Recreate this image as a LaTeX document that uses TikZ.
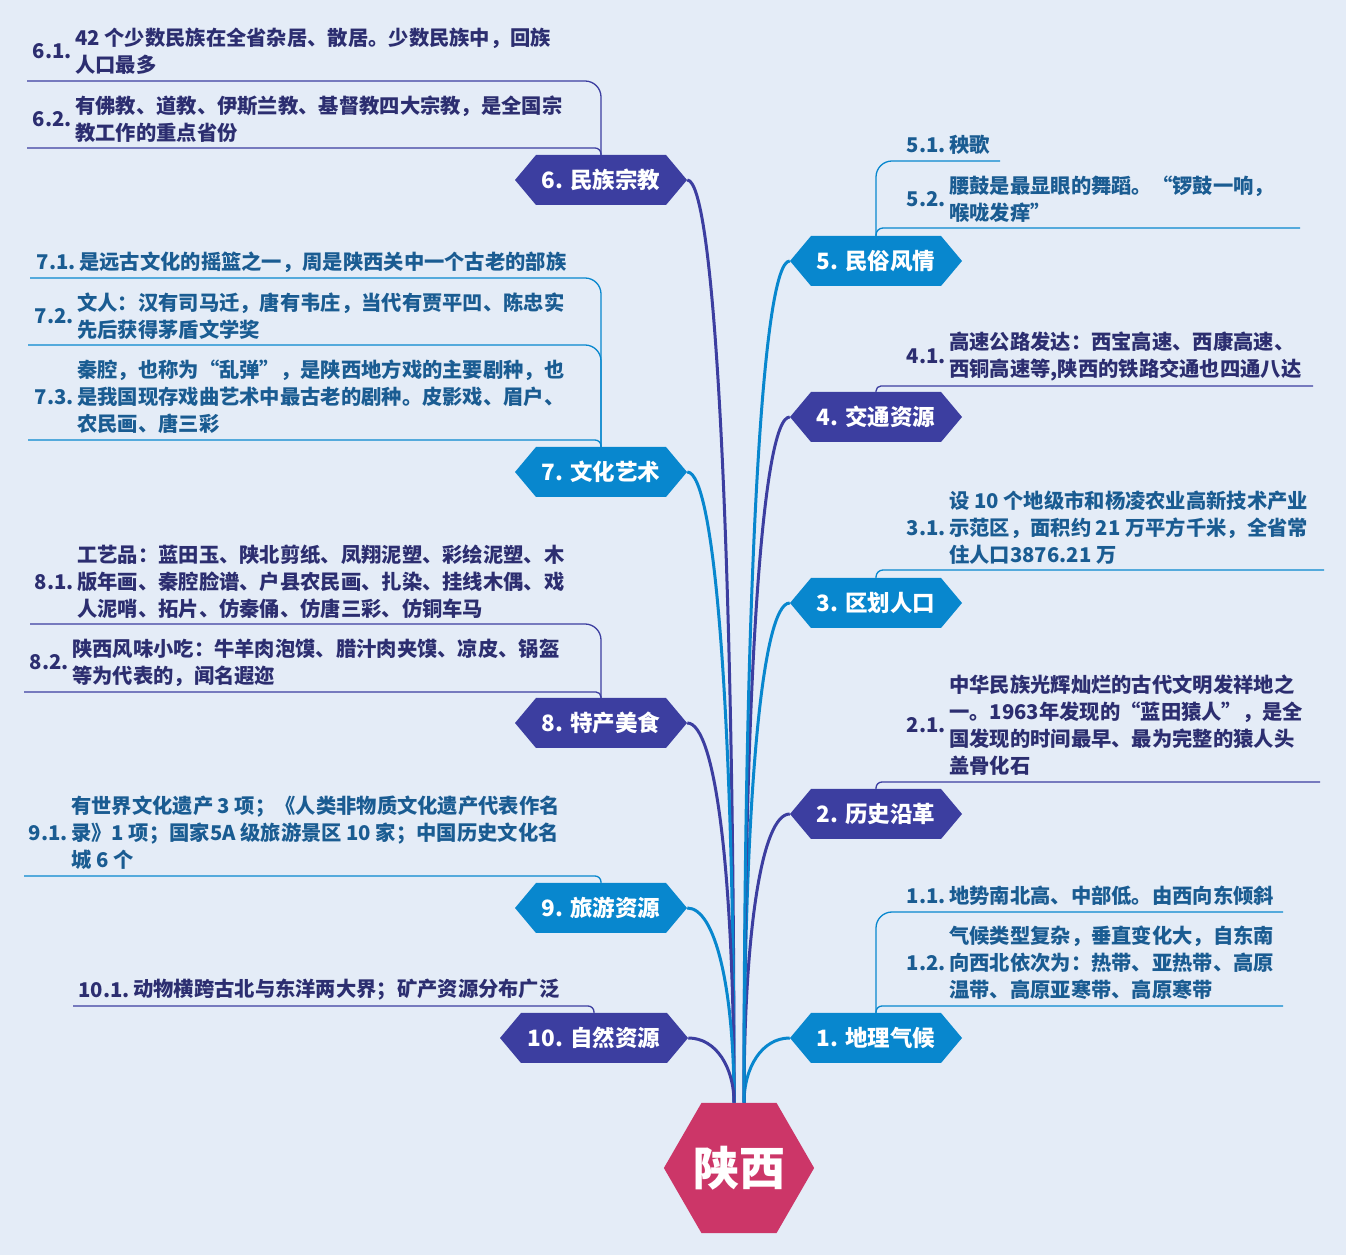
\documentclass[tikz,border=0pt]{standalone}
\usepackage{fontspec}
\setmainfont{Noto Sans CJK SC}
\usepackage{tikz}
\usetikzlibrary{calc}
\usetikzlibrary{positioning,shapes.geometric,shapes.symbols}

\definecolor{bgblue}{RGB}{228,236,247}
\definecolor{bluebr}{RGB}{8,135,206}
\definecolor{indbr}{RGB}{60,62,160}
\definecolor{bluetxt}{RGB}{26,92,146}
\definecolor{indtxt}{RGB}{44,46,112}
\definecolor{rootpink}{RGB}{204,54,104}

\begin{document}
\begin{tikzpicture}[x=1pt, y=1pt,
        topic/.style={signal, signal to=east and west, signal pointer angle=100, fill=#1, text=white,
            font=\bfseries\fontsize{22.5}{27}\selectfont, minimum height=50pt, minimum width=172pt, inner xsep=0pt},
        subtext/.style={anchor=west, align=left, inner sep=0pt, text=#1, font=\bfseries\fontsize{20.3}{27}\selectfont},
        sublabel/.style={inner sep=0pt, text=#1, font=\bfseries\fontsize{20.3}{27}\selectfont},
        link/.style={draw=#1, line width=3pt},
        subline/.style={draw=#1, line width=1.3pt}]
        \useasboundingbox (0,0) rectangle (1346,1255);
        \fill [bgblue] (0,0) rectangle (1346,1255);

        % Central node
        \node [regular polygon, regular polygon sides=6, fill=rootpink, minimum size=150pt, inner sep=0pt,
            text=white, font=\bfseries\fontsize{46}{50}\selectfont] (root) at (739,87) {陕西};

        % Topics on the right
        \foreach \i/\name/\col/\y in {1/地理气候/bluebr/217, 2/历史沿革/indbr/441, 3/区划人口/bluebr/652, 4/交通资源/indbr/838, 5/民俗风情/bluebr/994} {
            \node [topic=\col] (t\i) at (876,\y) {\i. \name};
        }
        % Topics on the left
        \foreach \i/\name/\col/\y in {6/民族宗教/indbr/1075, 7/文化艺术/bluebr/783, 8/特产美食/indbr/532, 9/旅游资源/bluebr/347} {
            \node [topic=\col] (t\i) at (601,\y) {\i. \name};
        }
        \node [topic=indbr, minimum width=188pt] (t10) at (594,217) {10. 自然资源};

        % Links from the central node
        \foreach \i/\col/\d in {1/bluebr/35, 2/indbr/170, 3/bluebr/300, 4/indbr/410, 5/bluebr/510} {
            \draw [link=\col] ([xshift=5pt]root.north) to[out=90, in=180, out distance=\d pt, in distance=28pt] (t\i.west);
        }
        \foreach \i/\col/\d in {6/indbr/550, 7/bluebr/380, 8/indbr/230, 9/bluebr/115, 10/indbr/35} {
            \draw [link=\col] ([xshift=-5pt]root.north) to[out=90, in=0, out distance=\d pt, in distance=28pt] (t\i.east);
        }

        % Subtopics on the left
        \foreach \k/\lb/\tp/\tx/\ty/\ux/\uy/\rr/\tc/\lc/\txt in {
            61/6.1./t6/75/1203.5/27/1174/16/indtxt/indbr/{42 个少数民族在全省杂居、散居。少数民族中，回族\\人口最多},
            62/6.2./t6/75/1135.5/27/1107/6/indtxt/indbr/{有佛教、道教、伊斯兰教、基督教四大宗教，是全国宗\\教工作的重点省份},
            71/7.1./t7/79/993/30/977/16/bluetxt/bluebr/{是远古文化的摇篮之一，周是陕西关中一个古老的部族},
            72/7.2./t7/77/938.5/28/910/16/bluetxt/bluebr/{文人：汉有司马迁，唐有韦庄，当代有贾平凹、陈忠实\\先后获得茅盾文学奖},
            73/7.3./t7/77/858/28/815/6/bluetxt/bluebr/{秦腔，也称为“乱弹”，是陕西地方戏的主要剧种，也\\是我国现存戏曲艺术中最古老的剧种。皮影戏、眉户、\\农民画、唐三彩},
            81/8.1./t8/77/673/30/631/16/indtxt/indbr/{工艺品：蓝田玉、陕北剪纸、凤翔泥塑、彩绘泥塑、木\\版年画、秦腔脸谱、户县农民画、扎染、挂线木偶、戏\\人泥哨、拓片、仿秦俑、仿唐三彩、仿铜车马},
            82/8.2./t8/72/592.5/24/563/5/indtxt/indbr/{陕西风味小吃：牛羊肉泡馍、腊汁肉夹馍、凉皮、锅盔\\等为代表的，闻名遐迩},
            91/9.1./t9/71/422/24/379/6/bluetxt/bluebr/{有世界文化遗产 3 项；《人类非物质文化遗产代表作名\\录》1 项；国家5A 级旅游景区 10 家；中国历史文化名\\城 6 个},
            101/10.1./t10/133/265/73/249/6/indtxt/indbr/{动物横跨古北与东洋两大界；矿产资源分布广泛}} {
            \node [subtext=\tc] (s\k) at (\tx,\ty) {\txt};
            \node [sublabel=\tc, left=3pt of s\k] (l\k) {\lb};
            \coordinate (u\k) at (\ux,\uy);
            \draw [subline=\lc, rounded corners=\rr pt] (u\k) -| (\tp.north);
        }

        % Subtopics on the right
        \foreach \k/\lb/\tp/\ty/\ux/\uy/\rr/\tc/\lc/\txt in {
            51/5.1./t5/1110/1000/1094/16/bluetxt/bluebr/{秧歌},
            52/5.2./t5/1056/1300/1027/7/bluetxt/bluebr/{腰鼓是最显眼的舞蹈。“锣鼓一响，\\喉咙发痒”},
            41/4.1./t4/898.5/1313/869/5/indtxt/indbr/{高速公路发达：西宝高速、西康高速、\\西铜高速等,陕西的铁路交通也四通八达},
            31/3.1./t3/727/1324/685/7/bluetxt/bluebr/{设 10 个地级市和杨凌农业高新技术产业\\示范区，面积约 21 万平方千米，全省常\\住人口3876.21 万},
            21/2.1./t2/530/1320/473/6/indtxt/indbr/{中华民族光辉灿烂的古代文明发祥地之\\一。1963年发现的“蓝田猿人”，是全\\国发现的时间最早、最为完整的猿人头\\盖骨化石},
            11/1.1./t1/359/1283/343/16/bluetxt/bluebr/{地势南北高、中部低。由西向东倾斜},
            12/1.2./t1/292/1283/249/6/bluetxt/bluebr/{气候类型复杂，垂直变化大，自东南\\向西北依次为：热带、亚热带、高原\\温带、高原亚寒带、高原寒带}} {
            \node [subtext=\tc] (s\k) at (949,\ty) {\txt};
            \node [sublabel=\tc, left=3pt of s\k] (l\k) {\lb};
            \coordinate (u\k) at (\ux,\uy);
            \draw [subline=\lc, rounded corners=\rr pt] (\tp.north) |- (u\k);
        }
    \end{tikzpicture}
\end{document}
